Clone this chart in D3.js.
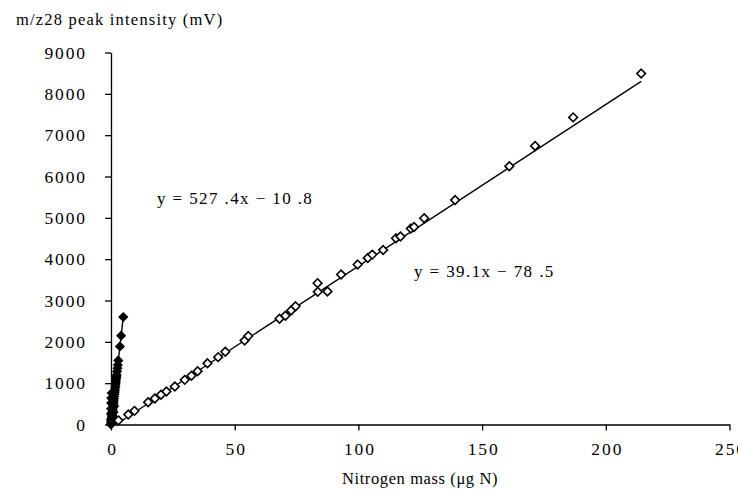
<!DOCTYPE html>
<html><head><meta charset="utf-8">
<script src="https://cdn.jsdelivr.net/npm/d3@7/dist/d3.min.js"></script>
<style>
body{margin:0;background:#fff;}
svg{display:block;}
svg text{font-family:"Liberation Serif","Times New Roman",Times,"Tinos","DejaVu Serif",serif !important;fill:#000;}
</style></head>
<body>
<svg id="chart" width="738" height="491"></svg>
<script>
// Open diamonds: larger range series (x = µg N, y = mV)
const openX = [3, 7, 9.5, 15, 17.7, 20.2, 22.4, 25.8, 29.8, 32.5, 35, 39, 43.3, 46.2, 54, 55.5, 68.1, 70.5, 72.8, 74.6, 83.5, 83.6, 87.5, 93, 99.7, 103.8, 105.6, 110, 115.2, 117, 121.2, 122.5, 126.6, 139.1, 161, 171.4, 186.8, 214.3];
const openY = [100, 240, 330, 540, 630, 720, 800, 920, 1080, 1180, 1290, 1480, 1630, 1760, 2030, 2140, 2560, 2630, 2760, 2860, 3420, 3210, 3220, 3630, 3870, 4030, 4110, 4220, 4505, 4550, 4740, 4780, 4990, 5430, 6250, 6740, 7430, 8490];
// Filled diamonds: low range series
const fillX = [0, 0, 0, 0.02, 0.05, 0.05, 0.1, 0.1, 0.15, 0.2, 0.25, 0.3, 0.3, 0.35, 0.4, 0.45, 0.5, 0.5, 0.55, 0.6, 0.7, 0.8, 0.8, 0.9, 1.0, 1.0, 1.1, 1.2, 1.3, 1.3, 1.4, 1.5, 1.6, 1.7, 1.8, 1.9, 2.0, 2.1, 2.2, 2.3, 2.45, 2.6, 2.75, 2.95, 3.6, 4.1, 4.95];
const fillY = [0, 120, 260, 380, 15, 520, 45, 640, 70, 95, 120, 40, 760, 175, 200, 225, 250, 90, 280, 310, 360, 410, 170, 460, 520, 300, 570, 620, 680, 450, 730, 780, 830, 890, 940, 990, 1040, 1100, 1150, 1200, 1280, 1360, 1440, 1550, 1890, 2150, 2600];
// Trend lines (slope, intercept) and labels
const openFit = {slope: 39.1, intercept: -78.5, label: "y = 39.1x \u2212 78 .5"};
const fillFit = {slope: 527.4, intercept: -10.8, label: "y = 527 .4x \u2212 10 .8"};
const xTicks = [0, 50, 100, 150, 200, 250];
const yTicks = [0, 1000, 2000, 3000, 4000, 5000, 6000, 7000, 8000, 9000];
const xTitle = "Nitrogen mass (\u03bcg N)";
const yTitle = "m/z28 peak intensity (mV)";

const svg = d3.select("#chart");
const x = d3.scaleLinear().domain([0, 250]).range([111, 729.5]);
const y = d3.scaleLinear().domain([0, 9000]).range([424.5, 52.5]);

const FONT = '"Liberation Serif","Times New Roman",Times,serif';
// axes
const gx = svg.append("g").attr("transform", `translate(0,${y(0)})`)
  .call(d3.axisBottom(x).tickValues(xTicks).tickSize(6).tickSizeOuter(0).tickPadding(12).tickFormat(d3.format("d")));
const gy = svg.append("g").attr("transform", `translate(${x(0)},0)`)
  .call(d3.axisLeft(y).tickValues(yTicks).tickSize(6).tickSizeOuter(0).tickPadding(18).tickFormat(d3.format("d")));
[gx, gy].forEach(g => {
  g.attr("font-family", FONT);
  g.selectAll("path,line").attr("stroke", "#000").attr("stroke-width", 1.3);
  g.selectAll("text").attr("font-size", 17.5).attr("letter-spacing", 1.9);
});
gx.selectAll("text").attr("dx", 1);

// trend lines
function fitLine(fit, x0, x1) {
  svg.append("line")
    .attr("x1", x(x0)).attr("y1", y(Math.max(0, fit.slope * x0 + fit.intercept)))
    .attr("x2", x(x1)).attr("y2", y(fit.slope * x1 + fit.intercept))
    .attr("stroke", "#000").attr("stroke-width", 1.4);
}
fitLine(openFit, 2, d3.max(openX));
fitLine(fillFit, 0.02, d3.max(fillX));

const diamondOpen = d3.symbol().type(d3.symbolDiamond2).size(48);
const diamondFill = d3.symbol().type(d3.symbolDiamond2).size(46);
const openData = openX.map((v, i) => [v, openY[i]]);
const fillData = fillX.map((v, i) => [v, fillY[i]]);

svg.append("g").selectAll("path").data(fillData).join("path")
  .attr("d", diamondFill)
  .attr("transform", d => `translate(${x(d[0])},${y(d[1])})`)
  .attr("fill", "#000").attr("stroke", "#000").attr("stroke-width", 1.2);

svg.append("g").selectAll("path").data(openData).join("path")
  .attr("d", diamondOpen)
  .attr("transform", d => `translate(${x(d[0])},${y(d[1])})`)
  .attr("fill", "#fff").attr("stroke", "#000").attr("stroke-width", 1.6);

// equation labels
const lab = svg.append("g").attr("font-family", FONT).attr("font-size", 17).attr("letter-spacing", 1.4);
lab.append("text").attr("x", 157).attr("y", 204).text(fillFit.label);
lab.append("text").attr("x", 414).attr("y", 277).text(openFit.label);

// titles
const tt = svg.append("g").attr("font-family", FONT).attr("font-size", 16.5);
tt.append("text").attr("x", 16).attr("y", 25).attr("letter-spacing", 1.2).text(yTitle);
tt.append("text").attr("x", 420).attr("y", 484).attr("text-anchor", "middle").attr("letter-spacing", 0.6).text(xTitle);
</script>
</body></html>
